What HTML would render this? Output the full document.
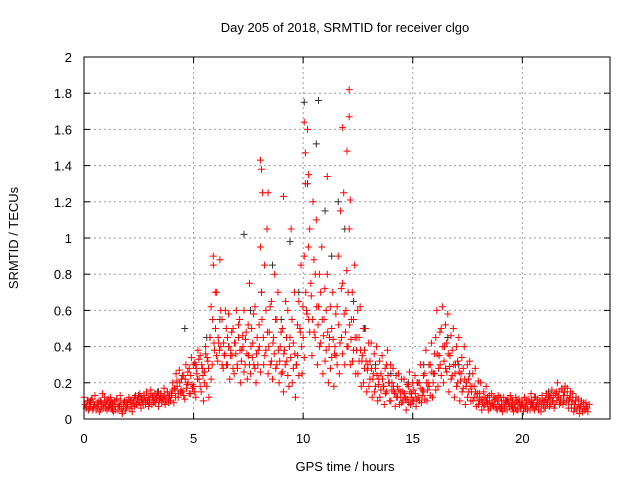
<!DOCTYPE html>
<html><head><meta charset="utf-8"><style>
body{margin:0;background:#fff}
svg{display:block;font-family:"Liberation Sans",sans-serif;font-size:13px}
</style></head><body>
<svg id="c" width="640" height="480">
<text x="345" y="32" text-anchor="middle">Day 205 of 2018, SRMTID for receiver clgo</text>
<text x="345" y="471" text-anchor="middle">GPS time / hours</text>
<text transform="translate(18,238) rotate(-90)" text-anchor="middle">SRMTID / TECUs</text>
<g id="grid"></g><g id="marks"></g>
<rect x="84" y="57" width="526" height="362" fill="none" stroke="#000"/>
</svg>
<script>
const xTicks=[0,5,10,15,20];
const yTicks=[0,0.2,0.4,0.6,0.8,1,1.2,1.4,1.6,1.8,2];
const yTickLabels=["0","0.2","0.4","0.6","0.8","1","1.2","1.4","1.6","1.8","2"];
const redStart=0, redStep=0.25;
const redValues=[
[.12,.08,.06,.10,.05],[.09,.07,.11,.05,.08],[.13,.06,.09,.08,.04],[.10,.07,.14,.06,.09],
[.08,.05,.11,.07,.12],[.06,.09,.04,.10,.07],[.11,.05,.08,.13,.06],[.03,.07,.10,.05,.09],
[.08,.12,.06,.10,.04],[.10,.07,.13,.08,.11],[.09,.14,.06,.11,.08],[.12,.08,.15,.10,.07],
[.11,.16,.08,.13,.10],[.09,.12,.15,.07,.11],[.14,.10,.12,.17,.08],[.11,.15,.09,.13,.10],
[.13,.20,.09,.16,.25],[.18,.12,.27,.15,.22],[.15,.24,.11,.30,.19],[.20,.28,.14,.34,.17],
[.18,.31,.12,.25,.38],[.22,.35,.15,.28,.10],[.26,.40,.18,.32,.12],[.45,.62,.30,.85,.38],
[.50,.70,.32,.42,.88],[.40,.55,.28,.35,.60],[.30,.45,.58,.22,.38],[.35,.50,.25,.42,.60],
[.28,.45,.55,.20,.38],[.40,.60,.30,.48,.22],[.35,.75,.25,.50,.42],[.30,.62,.20,.45,.38],
[.40,.95,.70,1.25,.30],[.35,.60,1.05,.25,.48],[.30,.65,.22,.45,.80],[.28,.55,.70,.20,.40],
[.25,.50,.15,.38,.65],[.32,.60,.18,.45,1.05],[.20,.42,.70,.12,.30],[.35,.65,.50,.85,.25],
[.45,.90,1.30,.60,1.60],[.55,1.05,.75,.35,1.20],[.48,.80,1.10,.30,.62],[.40,.70,.95,.25,.55],
[.32,.60,.80,.20,.45],[.28,.50,.70,.18,.40],[.35,.62,.90,.25,1.15],[.45,.75,1.25,.30,.60],
[.40,.70,1.05,.30,.55],[.32,.55,.85,.25,.45],[.25,.45,.62,.18,.35],[.20,.38,.50,.15,.30],
[.18,.32,.42,.12,.25],[.15,.28,.40,.10,.22],[.12,.25,.35,.18,.08],[.14,.30,.38,.20,.10],
[.10,.20,.28,.15,.07],[.12,.18,.25,.08,.15],[.09,.15,.22,.12,.05],[.11,.18,.26,.08,.14],
[.10,.16,.24,.07,.20],[.12,.20,.30,.09,.16],[.15,.25,.38,.10,.20],[.18,.30,.42,.12,.25],
[.25,.45,.60,.18,.35],[.30,.50,.62,.20,.40],[.28,.42,.58,.15,.35],[.22,.38,.50,.12,.30],
[.18,.32,.45,.10,.25],[.15,.28,.40,.08,.20],[.12,.22,.32,.10,.18],[.10,.18,.28,.07,.14],
[.08,.14,.20,.05,.11],[.07,.12,.18,.09,.05],[.10,.06,.14,.08,.12],[.08,.11,.05,.13,.07],
[.06,.10,.04,.12,.08],[.09,.05,.11,.07,.13],[.07,.10,.04,.08,.12],[.05,.09,.11,.06,.08],
[.08,.04,.12,.06,.10],[.06,.10,.05,.14,.08],[.09,.05,.12,.07,.11],[.07,.10,.04,.13,.08],
[.10,.06,.14,.08,.12],[.12,.08,.16,.10,.06],[.14,.10,.20,.12,.08],[.11,.16,.08,.13,.18],
[.09,.13,.06,.11,.15],[.06,.10,.04,.08,.12],[.05,.08,.03,.07,.10],[.04,.07,.05,.09,.06]];
const redStart2=0.12;
const redValues2=[
[.07,.10,.06,.09],[.11,.06,.08,.05],[.07,.10,.05,.09],[.08,.12,.06,.10],
[.06,.09,.10,.05],[.08,.05,.11,.07],[.07,.10,.04,.09],[.09,.06,.08,.11],
[.10,.07,.09,.12],[.08,.11,.13,.09],[.11,.09,.13,.10],[.10,.12,.09,.14],
[.12,.09,.14,.11],[.13,.10,.12,.09],[.11,.13,.10,.15],[.12,.10,.14,.16],
[.17,.12,.21,.14],[.20,.16,.24,.13],[.22,.17,.26,.14],[.24,.19,.30,.15],
[.28,.22,.33,.18],[.30,.24,.20,.36],[.34,.28,.45,.22],[.55,.42,.70,.35],
[.45,.38,.60,.30],[.42,.36,.50,.30],[.40,.35,.48,.28],[.42,.36,.30,.52],
[.38,.32,.46,.26],[.44,.36,.52,.30],[.40,.34,.58,.28],[.36,.30,.52,.26],
[.55,.45,.85,.38],[.48,.40,.62,.32],[.42,.36,.55,.30],[.38,.32,.48,.26],
[.36,.30,.45,.24],[.40,.34,.55,.28],[.36,.30,.52,.24],[.48,.40,.62,.34],
[.70,.58,.95,.48],[.68,.55,.88,.45],[.62,.52,.80,.42],[.55,.46,.72,.38],
[.48,.40,.62,.34],[.44,.36,.58,.30],[.52,.42,.72,.36],[.58,.48,.82,.40],
[.52,.44,.70,.38],[.45,.38,.60,.32],[.38,.32,.50,.28],[.32,.27,.42,.22],
[.28,.22,.36,.18],[.24,.19,.32,.16],[.22,.18,.28,.15],[.24,.20,.30,.16],
[.18,.14,.24,.12],[.16,.12,.22,.10],[.14,.11,.19,.09],[.15,.12,.20,.10],
[.14,.11,.20,.10],[.17,.13,.24,.11],[.20,.16,.30,.13],[.26,.20,.36,.16],
[.36,.28,.48,.24],[.40,.32,.52,.26],[.36,.29,.46,.24],[.30,.25,.40,.20],
[.26,.21,.34,.17],[.22,.18,.30,.15],[.18,.15,.25,.12],[.15,.12,.21,.10],
[.11,.09,.15,.08],[.10,.08,.13,.07],[.09,.07,.11,.06],[.10,.08,.12,.06],
[.08,.06,.10,.05],[.09,.07,.11,.06],[.08,.06,.10,.05],[.09,.07,.10,.06],
[.07,.09,.05,.11],[.08,.10,.06,.12],[.07,.09,.05,.10],[.08,.10,.06,.11],
[.09,.11,.07,.13],[.10,.13,.08,.15],[.12,.15,.09,.17],[.13,.15,.10,.17],
[.10,.12,.08,.14],[.08,.10,.06,.11],[.06,.08,.04,.09],[.05,.07,.04,.08]];
const redOutT=[8.05,8.1,8.4,10.05,10.1,10.25,11.8,12.0,12.1,12.1,12.15,9.1,11.1,5.9];
const redOutV=[1.43,1.38,1.25,1.64,1.47,1.35,1.61,1.48,1.82,1.67,1.21,1.23,1.34,0.9];
const blackT=[0.3,1.2,2.6,3.4,4.6,5.1,5.6,6.2,6.6,7.3,7.6,8.1,8.6,9.0,9.4,9.8,10.05,10.2,10.6,10.7,11.0,11.3,11.6,11.9,12.3,12.8,13.3,14.0,14.8,15.5,16.2,16.6,17.1,17.6,18.4,19.3,20.4,21.2,21.9,22.4];
const blackV=[0.1,0.08,0.12,0.15,0.5,0.3,0.45,0.55,0.4,1.02,0.6,0.7,0.85,0.55,0.98,0.7,1.75,1.3,1.52,1.76,1.15,0.9,1.2,1.05,0.65,0.5,0.3,0.25,0.2,0.3,0.35,0.45,0.3,0.25,0.12,0.1,0.08,0.15,0.1,0.06];
const X0=84,X1=610,Y0=419,Y1=57,XMAX=24,YMAX=2;
const xs=v=>X0+v/XMAX*(X1-X0), ys=v=>Y0-v/YMAX*(Y0-Y1);
const NS="http://www.w3.org/2000/svg";
const grid=document.getElementById('grid'), marks=document.getElementById('marks');
function mk(tag,attrs,parent){const e=document.createElementNS(NS,tag);for(const k in attrs)e.setAttribute(k,attrs[k]);parent.appendChild(e);return e;}
xTicks.forEach(t=>{const x=xs(t);
 if(t>0){const g=mk('line',{x1:x,x2:x,y1:Y0,y2:Y1,stroke:'#999','stroke-dasharray':'2,3'},grid);
 
 }
 mk('line',{x1:x,x2:x,y1:Y0,y2:Y0-6,stroke:'#000'},grid);mk('line',{x1:x,x2:x,y1:Y1,y2:Y1+6,stroke:'#000'},grid);
 const l=mk('text',{x:x,y:Y0+24,'text-anchor':'middle'},grid);l.textContent=t;
 
 });
yTicks.forEach((t,i)=>{const y=ys(t);
 if(i>0&&i<yTicks.length-1){const g=mk('line',{x1:X0,x2:X1,y1:y,y2:y,stroke:'#999','stroke-dasharray':'2,3'},grid);
 
 }
 mk('line',{x1:X0,x2:X0+6,y1:y,y2:y,stroke:'#000'},grid);mk('line',{x1:X1,x2:X1-6,y1:y,y2:y,stroke:'#000'},grid);
 const l=mk('text',{x:72,y:y+5,'text-anchor':'end'},grid);l.textContent=yTickLabels[i];
 
 });
function plus(t,v,col,name){const x=xs(t),y=ys(v);
 const p=mk('path',{d:`M${x-3.5},${y}h7M${x},${y-3.5}v7`,stroke:col,'stroke-width':1,fill:'none'},marks);
 
 }
blackT.forEach((t,i)=>plus(t,blackV[i],'#333','black-point'));
redValues.forEach((row,i)=>row.forEach((v,j)=>plus(redStart+i*redStep+j*0.05,v,'#f00','red-point')));
redValues2.forEach((row,i)=>row.forEach((v,j)=>plus(redStart2+i*redStep+j*0.06,v,'#f00','red-point')));
redOutT.forEach((t,i)=>plus(t,redOutV[i],'#f00','red-point'));
</script>
</body></html>
